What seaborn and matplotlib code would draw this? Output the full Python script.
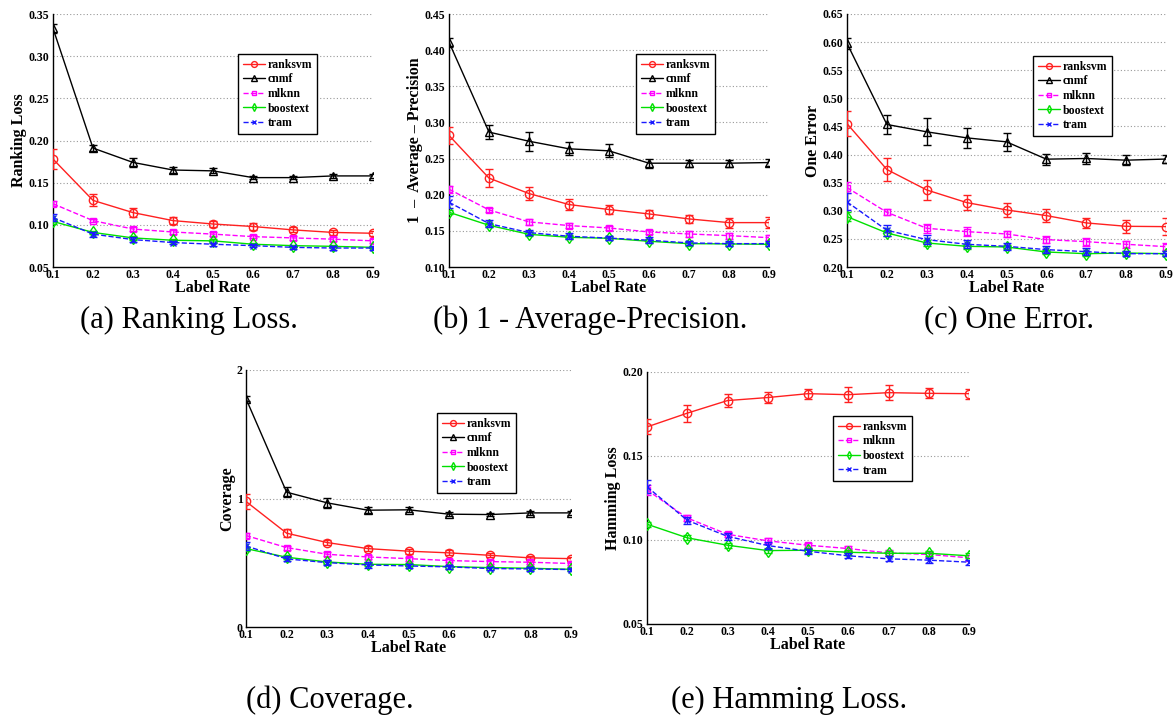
import numpy as np
import pandas as pd
import matplotlib
matplotlib.use("Agg")
import matplotlib.pyplot as plt
import seaborn as sns

sns.set_style("white")
plt.rcParams['font.family'] = ['Liberation Serif', 'DejaVu Serif']
plt.rcParams['text.color'] = 'black'
plt.rcParams['axes.labelcolor'] = 'black'
plt.rcParams['xtick.color'] = 'black'
plt.rcParams['ytick.color'] = 'black'

rates = [0.1, 0.2, 0.3, 0.4, 0.5, 0.6, 0.7, 0.8, 0.9]
methods = ["ranksvm", "cnmf", "mlknn", "boostext", "tram"]

# (a) Ranking Loss
rl_ranksvm = [0.178, 0.129, 0.1145, 0.105, 0.101, 0.098, 0.094, 0.091, 0.090]
rl_cnmf = [0.333, 0.191, 0.174, 0.165, 0.164, 0.156, 0.156, 0.158, 0.158]
rl_mlknn = [0.125, 0.105, 0.095, 0.0915, 0.089, 0.086, 0.0845, 0.083, 0.081]
rl_boostext = [0.104, 0.091, 0.0845, 0.0817, 0.081, 0.077, 0.0753, 0.0745, 0.0733]
rl_tram = [0.1086, 0.089, 0.0825, 0.079, 0.077, 0.0753, 0.0733, 0.0725, 0.0725]
rl_err_ranksvm = [0.012, 0.007, 0.005, 0.004, 0.004, 0.004, 0.003, 0.003, 0.003]
rl_err_cnmf = [0.005, 0.004, 0.005, 0.003, 0.003, 0.002, 0.002, 0.002, 0.002]
rl_err_mlknn = [0.003, 0.002, 0.002, 0.002, 0.002, 0.002, 0.002, 0.002, 0.002]
rl_err_boostext = [0.003, 0.002, 0.002, 0.002, 0.002, 0.001, 0.001, 0.001, 0.001]
rl_err_tram = [0.004, 0.003, 0.003, 0.002, 0.002, 0.002, 0.002, 0.002, 0.002]

# (b) 1 - Average-Precision
ap_ranksvm = [0.282, 0.223, 0.2016, 0.1864, 0.1795, 0.1734, 0.1665, 0.1614, 0.1614]
ap_cnmf = [0.411, 0.2866, 0.274, 0.2635, 0.2607, 0.2436, 0.2436, 0.2436, 0.2445]
ap_mlknn = [0.2076, 0.179, 0.1624, 0.1573, 0.154, 0.1485, 0.1457, 0.1434, 0.1406]
ap_boostext = [0.1757, 0.1577, 0.1452, 0.1411, 0.1397, 0.1356, 0.1323, 0.1319, 0.1314]
ap_tram = [0.1896, 0.160, 0.1476, 0.1425, 0.140, 0.137, 0.1333, 0.1323, 0.1323]
ap_err_ranksvm = [0.012, 0.012, 0.009, 0.008, 0.006, 0.006, 0.005, 0.007, 0.008]
ap_err_cnmf = [0.006, 0.010, 0.013, 0.009, 0.009, 0.006, 0.005, 0.005, 0.005]
ap_err_mlknn = [0.005, 0.003, 0.004, 0.004, 0.003, 0.003, 0.004, 0.004, 0.003]
ap_err_boostext = [0.003, 0.003, 0.003, 0.003, 0.003, 0.003, 0.003, 0.003, 0.003]
ap_err_tram = [0.008, 0.005, 0.004, 0.004, 0.003, 0.004, 0.003, 0.003, 0.003]

# (c) One Error
oe_ranksvm = [0.455, 0.3734, 0.337, 0.3146, 0.3015, 0.2914, 0.2784, 0.2724, 0.2718]
oe_cnmf = [0.5978, 0.4535, 0.4404, 0.4297, 0.4226, 0.3918, 0.393, 0.390, 0.392]
oe_mlknn = [0.3413, 0.2973, 0.2689, 0.2629, 0.2588, 0.2487, 0.2451, 0.2404, 0.2362]
oe_boostext = [0.2896, 0.2606, 0.2427, 0.2368, 0.2356, 0.2267, 0.2237, 0.2249, 0.2237]
oe_tram = [0.3158, 0.2653, 0.2487, 0.2404, 0.2368, 0.2309, 0.2273, 0.2237, 0.2237]
oe_err_ranksvm = [0.022, 0.021, 0.017, 0.014, 0.012, 0.011, 0.009, 0.012, 0.015]
oe_err_cnmf = [0.010, 0.017, 0.024, 0.018, 0.016, 0.010, 0.010, 0.009, 0.007]
oe_err_mlknn = [0.010, 0.005, 0.008, 0.008, 0.006, 0.006, 0.007, 0.006, 0.006]
oe_err_boostext = [0.008, 0.005, 0.005, 0.004, 0.004, 0.004, 0.004, 0.004, 0.004]
oe_err_tram = [0.015, 0.010, 0.008, 0.007, 0.006, 0.006, 0.006, 0.005, 0.004]

# (d) Coverage
cv_ranksvm = [0.977, 0.730, 0.657, 0.610, 0.590, 0.577, 0.558, 0.538, 0.532]
cv_cnmf = [1.777, 1.049, 0.966, 0.909, 0.912, 0.878, 0.875, 0.888, 0.888]
cv_mlknn = [0.712, 0.618, 0.566, 0.545, 0.532, 0.517, 0.509, 0.504, 0.494]
cv_boostext = [0.610, 0.543, 0.506, 0.488, 0.486, 0.470, 0.462, 0.457, 0.449]
cv_tram = [0.631, 0.530, 0.501, 0.483, 0.475, 0.468, 0.455, 0.452, 0.447]
cv_err_ranksvm = [0.060, 0.030, 0.020, 0.020, 0.020, 0.020, 0.015, 0.015, 0.015]
cv_err_cnmf = [0.020, 0.040, 0.040, 0.025, 0.020, 0.015, 0.015, 0.015, 0.015]
cv_err_mlknn = [0.020, 0.015, 0.015, 0.015, 0.015, 0.015, 0.015, 0.015, 0.015]
cv_err_boostext = [0.015, 0.015, 0.015, 0.015, 0.015, 0.015, 0.015, 0.015, 0.015]
cv_err_tram = [0.030, 0.020, 0.020, 0.020, 0.015, 0.015, 0.015, 0.015, 0.015]

# (e) Hamming Loss (no cnmf)
hl_ranksvm = [0.1673, 0.1755, 0.183, 0.1848, 0.1871, 0.1865, 0.1877, 0.1873, 0.1871]
hl_mlknn = [0.1298, 0.1131, 0.1034, 0.0995, 0.0969, 0.0949, 0.0923, 0.0914, 0.0894]
hl_boostext = [0.1094, 0.1013, 0.0969, 0.0937, 0.0939, 0.0927, 0.0921, 0.0921, 0.0906]
hl_tram = [0.1317, 0.1117, 0.1022, 0.0967, 0.0933, 0.0906, 0.0888, 0.088, 0.0868]
hl_err_ranksvm = [0.0045, 0.005, 0.004, 0.0035, 0.003, 0.0045, 0.0045, 0.003, 0.003]
hl_err_mlknn = [0.003, 0.002, 0.0015, 0.0015, 0.0015, 0.0015, 0.0015, 0.0015, 0.0015]
hl_err_boostext = [0.0015, 0.0015, 0.0015, 0.0015, 0.0015, 0.0015, 0.0015, 0.0015, 0.0015]
hl_err_tram = [0.004, 0.002, 0.002, 0.002, 0.0015, 0.0015, 0.0015, 0.0015, 0.0015]

styles = {
    "ranksvm": dict(color="#ff2020", marker="o", ls="-", ms=6.0),
    "cnmf": dict(color="black", marker="^", ls="-", ms=6.0),
    "mlknn": dict(color="#ff00ff", marker="s", ls="--", ms=5.0),
    "boostext": dict(color="#00e000", marker="d", ls="-", ms=6.0),
    "tram": dict(color="#1a1aff", marker="x", ls="--", ms=4.5),
}

panels = [
    dict(ylabel="Ranking Loss", ylim=(0.05, 0.35), yticks=[0.05, 0.10, 0.15, 0.20, 0.25, 0.30, 0.35],
         fmt="{:.2f}", box=(53, 14, 373, 267), leg=(238, 54), cap="(a) Ranking Loss.", capxy=(189, 320),
         data={"ranksvm": (rl_ranksvm, rl_err_ranksvm), "cnmf": (rl_cnmf, rl_err_cnmf),
               "mlknn": (rl_mlknn, rl_err_mlknn), "boostext": (rl_boostext, rl_err_boostext),
               "tram": (rl_tram, rl_err_tram)}),
    dict(ylabel="1  \u2013  Average \u2013 Precision", ylim=(0.10, 0.45),
         yticks=[0.10, 0.15, 0.20, 0.25, 0.30, 0.35, 0.40, 0.45],
         fmt="{:.2f}", box=(449, 14, 769, 267), leg=(636, 54), cap="(b) 1 - Average-Precision.", capxy=(590, 320),
         data={"ranksvm": (ap_ranksvm, ap_err_ranksvm), "cnmf": (ap_cnmf, ap_err_cnmf),
               "mlknn": (ap_mlknn, ap_err_mlknn), "boostext": (ap_boostext, ap_err_boostext),
               "tram": (ap_tram, ap_err_tram)}),
    dict(ylabel="One Error", ylim=(0.20, 0.65),
         yticks=[0.20, 0.25, 0.30, 0.35, 0.40, 0.45, 0.50, 0.55, 0.60, 0.65],
         fmt="{:.2f}", box=(847, 14, 1166, 267), leg=(1033, 56), cap="(c) One Error.", capxy=(1009, 320),
         data={"ranksvm": (oe_ranksvm, oe_err_ranksvm), "cnmf": (oe_cnmf, oe_err_cnmf),
               "mlknn": (oe_mlknn, oe_err_mlknn), "boostext": (oe_boostext, oe_err_boostext),
               "tram": (oe_tram, oe_err_tram)}),
    dict(ylabel="Coverage", ylim=(0, 2), yticks=[0, 1, 2],
         fmt="{:.0f}", box=(246, 370, 571, 627), leg=(437, 413), cap="(d) Coverage.", capxy=(330, 700),
         data={"ranksvm": (cv_ranksvm, cv_err_ranksvm), "cnmf": (cv_cnmf, cv_err_cnmf),
               "mlknn": (cv_mlknn, cv_err_mlknn), "boostext": (cv_boostext, cv_err_boostext),
               "tram": (cv_tram, cv_err_tram)}),
    dict(ylabel="Hamming Loss", ylim=(0.05, 0.20), yticks=[0.05, 0.10, 0.15, 0.20],
         fmt="{:.2f}", box=(647, 372, 969, 624), leg=(833, 416), cap="(e) Hamming Loss.", capxy=(789, 700),
         data={"ranksvm": (hl_ranksvm, hl_err_ranksvm),
               "mlknn": (hl_mlknn, hl_err_mlknn), "boostext": (hl_boostext, hl_err_boostext),
               "tram": (hl_tram, hl_err_tram)}),
]

W, H = 1176, 719
fig = plt.figure(figsize=(W / 100, H / 100), dpi=100)
bold = dict(family=['Liberation Serif', 'DejaVu Serif'], weight='bold')

for p in panels:
    l, t, r, b = p["box"]
    ax = fig.add_axes([l / W, 1 - b / H, (r - l) / W, (b - t) / H])
    for m in methods:
        if m not in p["data"]:
            continue
        vals, errs = p["data"][m]
        st = styles[m]
        df = pd.DataFrame({"rate": rates, "value": vals})
        sns.lineplot(data=df, x="rate", y="value", ax=ax, color=st["color"], linestyle=st["ls"],
                     marker=st["marker"], markersize=st["ms"], markerfacecolor="none",
                     markeredgecolor=st["color"], markeredgewidth=1.0, linewidth=1.0,
                     label=m, legend=False, zorder=3)
        ax.errorbar(rates, vals, yerr=errs, fmt="none", ecolor=st["color"], elinewidth=1.0,
                    capsize=3, capthick=1.0, zorder=3)
    ax.set_xlim(0.1, 0.9)
    ax.set_ylim(*p["ylim"])
    ax.set_xticks(rates)
    ax.set_xticklabels([f"{v:.1f}" for v in rates], fontsize=8.5, **bold)
    ax.set_yticks(p["yticks"])
    ax.set_yticklabels([p["fmt"].format(v) for v in p["yticks"]], fontsize=8.5, **bold)
    for y in p["yticks"][1:]:
        ax.axhline(y, color="#999999", linestyle=(0, (1, 2)), linewidth=0.8, zorder=1)
    ax.spines["top"].set_visible(False)
    ax.spines["right"].set_visible(False)
    for s in ["left", "bottom"]:
        ax.spines[s].set_color("black")
        ax.spines[s].set_linewidth(1.0)
    ax.tick_params(direction="in", length=3, width=0.8, pad=1.5, colors="black")
    ax.tick_params(axis="y", pad=2.5)
    ax.set_xlabel("Label Rate", fontsize=11.5, labelpad=-1, **bold)
    ax.set_ylabel(p["ylabel"], fontsize=11.5, labelpad=1, **bold)
    lx, ly = p["leg"]
    leg = ax.legend(loc="upper left", bbox_to_anchor=(lx / W, 1 - ly / H), bbox_transform=fig.transFigure,
                    prop=dict(family=['Liberation Serif'], weight='bold', size=8.5),
                    frameon=True, fancybox=False, edgecolor="black", framealpha=1,
                    handlelength=1.9, handletextpad=0.2, labelspacing=0.22, borderpad=0.4,
                    borderaxespad=0, markerscale=0.7)
    leg.get_frame().set_linewidth(1.0)
    cx, cy = p["capxy"]
    fig.text(cx / W, 1 - cy / H, p["cap"], ha="center", va="center", fontsize=22, color="black",
             family=['Liberation Serif', 'DejaVu Serif'])

fig.savefig("out.png", dpi=100)
